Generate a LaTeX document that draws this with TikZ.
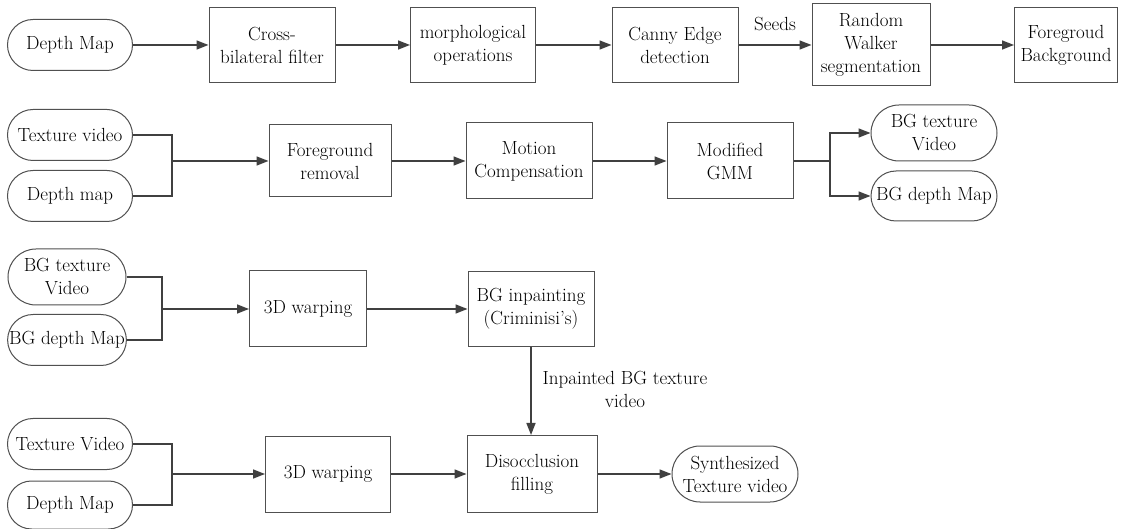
\documentclass[tikz,border=0pt]{standalone}
\usetikzlibrary{arrows.meta,shapes.misc}
\definecolor{lncol}{HTML}{404040}
\definecolor{bdcol}{HTML}{505050}
\begin{document}
\begin{tikzpicture}[x=1pt,y=-1pt,
  every node/.style={font=\fontsize{19}{23}\selectfont},
  procbox/.style={draw=bdcol, line width=1pt, align=center, inner sep=0pt},
  term/.style={rounded rectangle, draw=bdcol, line width=1pt, align=center, inner sep=0pt},
  conn/.style={draw=lncol, line width=1.6pt},
  arr/.style={conn, -{Triangle[length=12pt,width=9pt]}},
]
\useasboundingbox[fill=white] (0,0) rectangle (1136,529);

% Row 1
\node[term, minimum width=125pt, minimum height=51pt] (dm1) at (70,45) {Depth Map};
\node[procbox, minimum width=126pt, minimum height=75pt] (cbf) at (272,45) {Cross-\\bilateral filter};
\node[procbox, minimum width=125pt, minimum height=75pt] (morph) at (473,45) {morphological\\operations};
\node[procbox, minimum width=126pt, minimum height=75pt] (canny) at (675,45) {Canny Edge\\detection};
\node[procbox, minimum width=118pt, minimum height=82pt] (rw) at (871,45) {Random\\Walker\\segmentation};
\node[procbox, minimum width=103pt, minimum height=75pt] (fb) at (1066,45) {Foregroud\\Background};
\node (seeds) at (775,24) {Seeds};

\draw[arr] (dm1) -- (cbf);
\draw[arr] (cbf) -- (morph);
\draw[arr] (morph) -- (canny);
\draw[arr] (canny) -- (rw);
\draw[arr] (rw) -- (fb);

% Row 2
\node[term, minimum width=125pt, minimum height=51pt] (tv2) at (70,135) {Texture video};
\node[term, minimum width=125pt, minimum height=51pt] (dm2) at (70,196) {Depth map};
\node[procbox, minimum width=122pt, minimum height=72pt] (fgr) at (330,161) {Foreground\\removal};
\node[procbox, minimum width=126pt, minimum height=76pt] (mc) at (529,161) {Motion\\Compensation};
\node[procbox, minimum width=126pt, minimum height=76pt] (gmm) at (730,161) {Modified\\GMM};
\node[term, minimum width=126pt, minimum height=56pt] (bgt2) at (934,133) {BG texture\\Video};
\node[term, minimum width=126pt, minimum height=50pt] (bgd2) at (934,196) {BG depth Map};
\coordinate (j2) at (172,161);
\coordinate (b2) at (830,161);

\draw[conn] (tv2.east) -| (j2) |- (dm2.east);
\draw[arr] (j2) -- (fgr.west);
\draw[arr] (fgr) -- (mc);
\draw[arr] (mc) -- (gmm);
\draw[conn] (gmm.east) -- (b2);
\draw[arr] (b2) |- (bgt2.west);
\draw[arr] (b2) |- (bgd2.west);

% Row 3
\node[term, minimum width=118pt, minimum height=56pt] (bgt3) at (67,277) {BG texture\\Video};
\node[term, minimum width=118pt, minimum height=51pt] (bgd3) at (67,340) {BG depth Map};
\node[procbox, minimum width=117pt, minimum height=76pt] (w3) at (308,309) {3D warping};
\node[procbox, minimum width=126pt, minimum height=75pt] (inp) at (531,309) {BG inpainting\\(Criminisi's)};
\coordinate (j3) at (162,309);

\draw[conn] (bgt3.east) -| (j3) |- (bgd3.east);
\draw[arr] (j3) -- (w3.west);
\draw[arr] (w3) -- (inp);

% Row 4
\node[term, minimum width=125pt, minimum height=51pt] (tv4) at (70,444) {Texture Video};
\node[term, minimum width=125pt, minimum height=48pt] (dm4) at (70,505) {Depth Map};
\node[procbox, minimum width=125pt, minimum height=76pt] (w4) at (328,474) {3D warping};
\node[procbox, minimum width=130pt, minimum height=77pt] (dis) at (532,474) {Disocclusion\\filling};
\node[term, minimum width=126pt, minimum height=56pt] (syn) at (735,474) {Synthesized\\Texture video};
\coordinate (j4) at (172,474);
\node[align=center] (ilabel) at (625,389) {Inpainted BG texture\\video};

\draw[conn] (tv4.east) -| (j4) |- (dm4.east);
\draw[arr] (j4) -- (w4.west);
\draw[arr] (w4) -- (dis);
\draw[arr] (dis) -- (syn);
\draw[arr] (inp.south) -- (inp.south |- dis.north);
\end{tikzpicture}
\end{document}
